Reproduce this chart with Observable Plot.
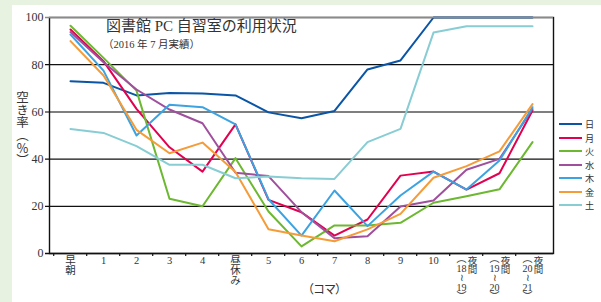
<!DOCTYPE html>
<html><head><meta charset="utf-8">
<script src="https://cdn.jsdelivr.net/npm/d3@7"></script>
<script src="https://cdn.jsdelivr.net/npm/@observablehq/plot@0.6"></script>
<style>
html,body{margin:0;padding:0;background:#e8f2e0;}
#wrap{position:relative;width:601px;height:302px;overflow:hidden;font-family:'Liberation Serif','Noto Sans CJK JP',serif;color:#333;}
#panel{position:absolute;left:12px;top:5px;width:589px;height:297px;background:#fff;}
#chart{position:absolute;left:0;top:0;}
.abs{position:absolute;white-space:nowrap;}
</style></head>
<body>
<div id="wrap"><div id="panel"></div><div id="chart"></div></div>
<script>
const categories = ["早朝","1","2","3","4","昼休み","5","6","7","8","9","10","18〜19夜間","19〜20夜間","20〜21夜間"];
const tickLabels = ["早\n朝","1","2","3","4","昼\n休\nみ","5","6","7","8","9","10","︵\n18\n≀\n19\n︶","︵\n19\n≀\n20\n︶","︵\n20\n≀\n21\n︶"];
const nightNote = "夜\n間";
const days = ["日","月","火","水","木","金","土"];
const colors = ["#0a55a5","#e2004f","#6cb830","#a04f9d","#3ba3e2","#f59b38","#88cdd4"];
const sun = [73.0, 72.3, 67.0, 68.0, 67.8, 67.0, 59.8, 57.3, 60.4, 78.0, 81.8, 100, 100, 100, 100];
const mon = [94.9, 81.5, 61.3, 45.0, 34.7, 54.7, 22.7, 17.5, 7.6, 14.4, 33.0, 34.7, 27.1, 34.0, 60.6];
const tue = [96.5, 82.9, 69.0, 23.2, 20.0, 40.4, 17.8, 3.0, 11.9, 11.9, 13.0, 21.5, 24.3, 27.2, 47.2];
const wed = [93.8, 81.0, 69.5, 61.0, 55.2, 34.2, 32.8, 17.5, 6.5, 7.3, 19.9, 22.5, 35.5, 40.1, 61.2];
const thu = [92.8, 77.5, 50.0, 63.0, 62.0, 54.7, 23.0, 7.6, 26.7, 11.6, 24.6, 34.7, 27.1, 39.4, 62.0];
const fri = [90.0, 75.4, 52.4, 42.5, 47.0, 34.5, 10.3, 7.6, 5.2, 10.2, 16.8, 32.1, 37.0, 43.3, 63.3];
const sat = [52.8, 51.1, 45.5, 37.6, 37.6, 31.9, 32.6, 31.9, 31.6, 47.2, 52.8, 93.6, 96.3, 96.3, 96.3];
const yTicks = [0, 20, 40, 60, 80, 100];
const title = "図書館 PC 自習室の利用状況";
const subtitle = "（2016 年 7 月実績）";
const xTitle = "（コマ）";

const series = [sun, mon, tue, wed, thu, fri, sat];
const data = days.flatMap((d, j) => series[j].map((v, i) => ({day: d, cat: categories[i], v})));

const W = 601, H = 302, mL = 49, mR = 48, mT = 17, mB = 49;
const step = (W - mL - mR) / categories.length;
const regular = categories.slice(0, 12);
const night = categories.slice(12);
const lab = d => tickLabels[categories.indexOf(d)];

const chart = Plot.plot({
  width: W, height: H,
  marginLeft: mL, marginRight: mR, marginTop: mT, marginBottom: mB,
  style: {background: "transparent", fontFamily: "'Liberation Serif','Noto Sans CJK JP',serif", color: "#333"},
  x: {type: "point", domain: categories, padding: 0.5, axis: null},
  y: {domain: [0, 100], axis: null},
  color: {domain: days, range: colors},
  marks: [
    Plot.ruleY([20, 40, 80], {stroke: "#111", strokeWidth: 1.2, insetLeft: -4}),
    Plot.ruleY([60], {stroke: "#7f7f7f", strokeWidth: 2, insetLeft: -4}),
    Plot.lineY(data, {x: "cat", y: "v", z: "day", stroke: "day", strokeWidth: 2}),
    Plot.frame({stroke: "#111", strokeWidth: 1.4}),
    Plot.ruleY([100], {stroke: "#8a8a8a", strokeWidth: 1.6, insetLeft: -4}),
    Plot.ruleY([0], {stroke: "#111", strokeWidth: 1.6, insetLeft: -4}),
    Plot.ruleX(categories, {x: d => d, y1: () => 0, y2: () => 0, dx: -step / 2, insetBottom: -3, stroke: "#111", strokeWidth: 1.2}),
    Plot.text(yTicks, {y: d => d, text: d => String(d), frameAnchor: "left", textAnchor: "end", dx: -6, fontSize: 12, fill: "#333"}),
    Plot.text(regular, {x: d => d, text: lab, frameAnchor: "bottom", lineAnchor: "top", dy: 4, fontSize: 10.5, lineHeight: 0.92, fill: "#333"}),
    Plot.text(night, {x: d => d, text: lab, frameAnchor: "bottom", lineAnchor: "top", dy: 2, dx: -5, fontSize: 10, lineHeight: 0.95, fill: "#333"}),
    Plot.text(night, {x: d => d, text: () => nightNote, frameAnchor: "bottom", lineAnchor: "top", dy: 4, dx: 6, fontSize: 9.5, lineHeight: 0.95, fill: "#333"})
  ]
});
document.getElementById("chart").appendChild(chart);

const wrap = document.getElementById("wrap");
function add(html, css) {
  const el = document.createElement("div");
  el.className = "abs";
  el.innerHTML = html;
  Object.assign(el.style, css);
  wrap.appendChild(el);
  return el;
}
add(title, {left: "106px", top: "16px", fontSize: "15px", lineHeight: "21px", color: "#333"});
add(subtitle, {left: "103px", top: "38px", fontSize: "10.5px", lineHeight: "14px", color: "#333"});
add("空き率（<span style='text-combine-upright:all'>%</span>）", {left: "15px", top: "91px", fontSize: "12.5px", writingMode: "vertical-rl", lineHeight: "14px", color: "#333", fontFamily: "'Noto Sans CJK JP',sans-serif"});
add(xTitle, {left: "302px", top: "281px", fontSize: "12px", lineHeight: "16px", letterSpacing: "-1px", color: "#333", fontFamily: "'Noto Sans CJK JP',sans-serif"});
days.forEach((d, i) => {
  const cy = 124 + 13.5 * i;
  add("", {left: "559px", top: (cy - 1) + "px", width: "23px", height: "2px", background: colors[i]});
  add(d, {left: "585px", top: (cy - 6) + "px", fontSize: "9.2px", lineHeight: "12px", height: "12px", color: "#333", fontFamily: "'Noto Sans CJK JP',sans-serif"});
});
</script>
</body></html>
